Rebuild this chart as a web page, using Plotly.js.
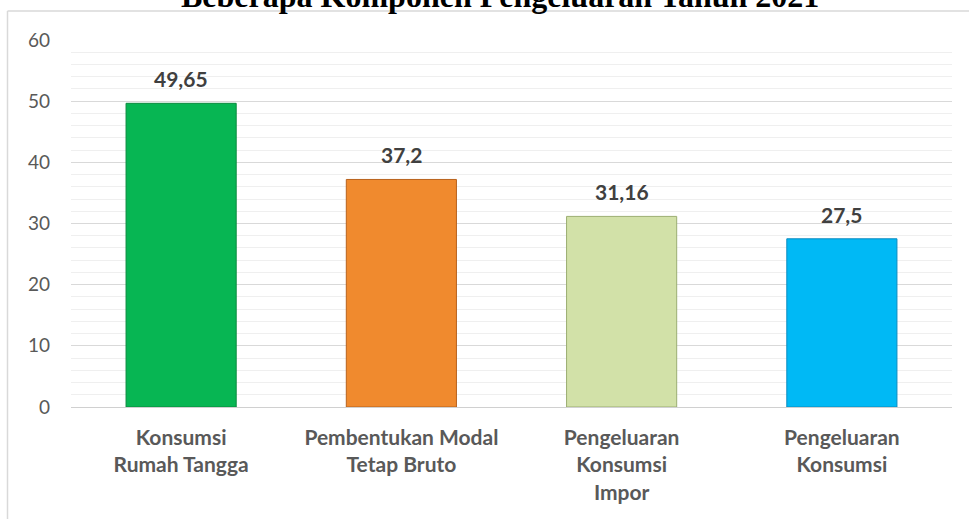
<!DOCTYPE html>
<html>
<head>
<meta charset="utf-8">
<script src="https://cdn.plot.ly/plotly-3.0.1.min.js"></script>
<style>html,body{margin:0;padding:0;background:#fff;}#chart{width:969px;height:519px;}</style>
</head>
<body>
<div id="chart"></div>
<script>
const titleText = "Beberapa Komponen Pengeluaran Tahun 2021";
const categories = ["Konsumsi<br>Rumah Tangga", "Pembentukan Modal<br>Tetap Bruto", "Pengeluaran<br>Konsumsi<br>Impor", "Pengeluaran<br>Konsumsi"];
const values = [49.65, 37.2, 31.16, 27.5];
const valueLabels = ["49,65", "37,2", "31,16", "27,5"];
const barColors = ["#07B653", "#F08A2E", "#D2E1A8", "#00B9F5"];
const barEdges = ["#0A8A3E", "#B8621C", "#9CAE72", "#0A8CC0"];
const yTicks = [0, 10, 20, 30, 40, 50, 60];

const W = 969, H = 519;
const m = {l: 71, r: 17, t: 40, b: 112};
const pw = W - m.l - m.r, ph = H - m.t - m.b;
const px = x => (x - m.l) / pw;
const py = y => (H - m.b - y) / ph;

const trace = {
  type: "bar",
  x: categories,
  y: values,
  marker: {color: barColors, line: {color: barEdges, width: 1}},
  hoverinfo: "none",
  showlegend: false
};

const annotations = categories.map((c, i) => ({
  x: c, y: values[i], xref: "x", yref: "y",
  text: "<b>" + valueLabels[i] + "</b>",
  showarrow: false, yanchor: "bottom", yshift: 10,
  font: {family: "Lato", size: 21, color: "#404040"}
}));
annotations.push({
  x: px(500), y: 1, xref: "paper", yref: "paper",
  text: "<b>" + titleText + "</b>", showarrow: false,
  xanchor: "center", yanchor: "bottom", yshift: 24,
  font: {family: "Liberation Serif", size: 32, color: "#000000"}
});

const layout = {
  width: W, height: H,
  margin: m,
  paper_bgcolor: "#ffffff", plot_bgcolor: "#ffffff",
  bargap: 0.5,
  xaxis: {
    showgrid: false, zeroline: false, showline: false, ticks: "",
    ticklabelstandoff: 16,
    tickfont: {family: "Lato", size: 21, color: "#595959", weight: "bold"}
  },
  yaxis: {
    range: [0, 60], tickvals: yTicks, ticktext: yTicks.map(String),
    showgrid: true, gridcolor: "#d9d9d9", gridwidth: 1,
    zeroline: true, zerolinecolor: "#d0d0d0", zerolinewidth: 1,
    showline: false, ticks: "", ticklabelstandoff: 20,
    minor: {dtick: 2, showgrid: true, gridcolor: "#efefef", gridwidth: 1, ticks: ""},
    tickfont: {family: "Lato", size: 19, color: "#595959"}
  },
  shapes: [
    {type: "line", xref: "paper", yref: "paper", x0: px(7.5), x1: px(969), y0: py(11), y1: py(11), line: {color: "#d9d9d9", width: 1.5}, layer: "below"},
    {type: "line", xref: "paper", yref: "paper", x0: px(7.5), x1: px(7.5), y0: py(11), y1: py(519), line: {color: "#d9d9d9", width: 1.5}, layer: "below"}
  ],
  annotations: annotations
};

Plotly.newPlot("chart", [trace], layout, {displayModeBar: false, staticPlot: true});
</script>
</body>
</html>
